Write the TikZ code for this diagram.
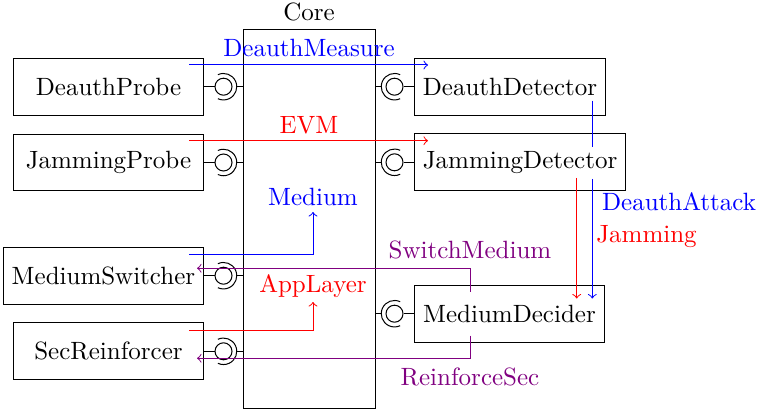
\documentclass[tikz,border=0pt]{standalone}
\usetikzlibrary{calc}
\begin{document}
\begin{tikzpicture}[x=0.4pt,y=-0.4pt,
  comp/.style={draw,minimum width=76pt,minimum height=22.7pt,inner sep=3.33pt},
  ball/.style={draw,circle,minimum size=6.8pt,inner sep=0pt},
  flow/.style={->},
  lbl/.style={inner sep=0pt}]
\useasboundingbox (0,0) rectangle (758,412);
% core
\node[draw,minimum width=52.8pt,minimum height=151.2pt,inner sep=0pt] (core) at (309,219) {};
\node[lbl] (corelbl) at (309,12) {Core};
% left components
\node[comp,anchor=east] (dp) at (204,86.7) {DeauthProbe};
\node[comp,anchor=east] (jp) at (204,162.5) {JammingProbe};
\node[comp,anchor=east] (ms) at (204,275.7) {MediumSwitcher};
\node[comp,anchor=east] (sr) at (204,351.3) {SecReinforcer};
% right components
\node[comp,anchor=west] (dd) at (414,86.7) {DeauthDetector};
\node[comp,anchor=west] (jd) at (414,162.3) {JammingDetector};
\node[comp,anchor=west] (md) at (414,313.7) {MediumDecider};
% left sockets
\foreach \c/\n in {dp/bl1,jp/bl2,ms/bl3,sr/bl4}{
  \node[ball] (\n) at ($(\c.east)+(19.5,0)$) {};
  \draw (\c.east) -- (\n.west);
  \draw ($(\n.center)+(115:5.3pt)$) arc[start angle=115,end angle=-115,radius=5.3pt];
  \draw ($(\n.center)+(5.3pt,0)$) -- (\n.center -| core.west);
}
% right sockets
\foreach \c/\n in {dd/br1,jd/br2,md/br3}{
  \node[ball] (\n) at ($(\c.west)+(-19.5,0)$) {};
  \draw (\c.west) -- (\n.east);
  \draw ($(\n.center)+(65:5.3pt)$) arc[start angle=65,end angle=295,radius=5.3pt];
  \draw ($(\n.center)+(-5.3pt,0)$) -- (\n.center -| core.east);
}
% DeauthMeasure
\coordinate (dmA) at (189,65);
\coordinate (dmB) at (428,65);
\draw[flow,blue] (dmA) -- (dmB);
\node[lbl,blue] (dmL) at (309,48) {DeauthMeasure};
% EVM
\coordinate (evA) at (189,140.7);
\coordinate (evB) at (428,140.7);
\draw[flow,red] (evA) -- (evB);
\node[lbl,red] (evL) at (309,125) {EVM};
% Medium
\coordinate (meA) at (189,254.5);
\coordinate (meB) at (313,212);
\draw[flow,blue] (meA) -| (meB);
\node[lbl,blue] (meL) at (313,197) {Medium};
% AppLayer
\coordinate (apA) at (189,330);
\coordinate (apB) at (313,302);
\draw[flow,red] (apA) -| (apB);
\node[lbl,red] (apL) at (313,286) {AppLayer};
% SwitchMedium
\coordinate (swA) at (470,291.5);
\coordinate (swB) at (197,268.3);
\draw[flow,violet] (swA) |- (swB);
\node[lbl,violet] (swL) at (470,250) {SwitchMedium};
% ReinforceSec
\coordinate (rsA) at (470,335.5);
\coordinate (rsB) at (197,358.3);
\draw[flow,violet] (rsA) |- (rsB);
\node[lbl,violet] (rsL) at (470,377) {ReinforceSec};
% DeauthAttack (passes behind the JammingDetector label)
\coordinate (daA) at (592.3,100.7);
\coordinate (daG1) at (592.3,146.7);
\coordinate (daG2) at (592.3,179);
\coordinate (daB) at (592.3,298.5);
\draw[blue] (daA) -- (daG1);
\draw[flow,blue] (daG2) -- (daB);
\node[lbl,blue] (daL) at (679,201.7) {DeauthAttack};
% Jamming
\coordinate (jaA) at (576.7,178);
\coordinate (jaB) at (576.7,298.5);
\draw[flow,red] (jaA) -- (jaB);
\node[lbl,red] (jaL) at (646.5,237) {Jamming};
\end{tikzpicture}
\end{document}
